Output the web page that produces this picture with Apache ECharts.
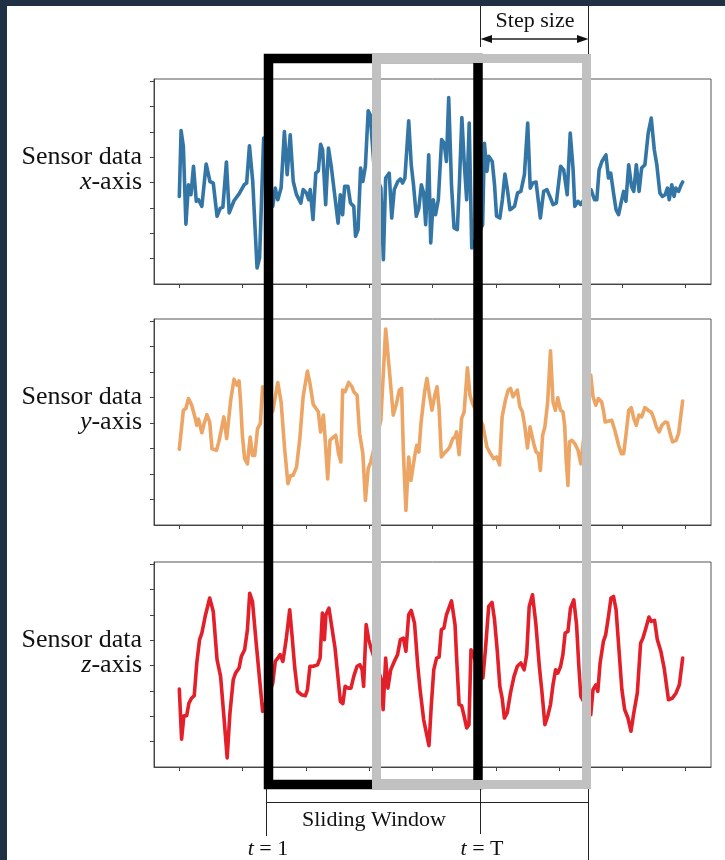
<!DOCTYPE html>
<html>
<head>
<meta charset="utf-8">
<style>html,body{margin:0;padding:0;background:#fff;}#c{width:725px;height:860px;}</style>
<script src="https://cdn.jsdelivr.net/npm/echarts@6/dist/echarts.min.js"></script>
</head>
<body>
<div id="c"></div>
<script>
// ---- data (sample index, sensor value) ----
var xTicks = [0, 25, 50, 75, 100, 125, 150, 175, 200];
var yTicks = [0, 1, 2, 3, 4, 5, 6, 7];

var tX = [0,0.7,1.6,2.6,3.6,4.6,5.6,6.7,7.6,8.9,10.6,12.1,13.4,14.9,16.2,17.2,18.6,19.7,21.6,23.6,25.6,26.6,27.7,29.0,30.7,31.7,33.3,35.0,36.9,37.9,38.9,40.2,41.5,42.6,43.8,45.0,46.3,48.0,48.9,50.2,51.1,51.7,52.8,53.9,54.9,55.8,56.6,57.8,58.9,60.0,61.2,61.8,62.7,63.6,64.5,65.3,66.6,67.6,68.9,69.6,70.6,71.6,72.5,73.5,74.6,75.4,77.0,79.6,80.6,81.5,82.9,83.9,84.9,86.3,87.3,88.2,89.1,90.6,91.6,92.5,93.6,94.6,95.6,96.5,97.3,98.5,99.3,100.3,101.2,102.3,103.6,104.6,105.5,106.4,107.5,108.5,109.8,110.6,111.6,112.5,113.5,114.5,115.5,119.8,120.5,121.5,122.2,123.6,124.5,125.3,126.6,127.6,128.6,129.5,130.6,131.5,132.4,133.6,134.9,136.3,137.6,138.6,139.6,140.9,142.6,143.9,145.2,146.6,147.6,148.9,150.6,151.8,152.5,153.2,154.4,155.5,156.2,157.5,158.5,162.6,164.0,164.9,165.8,166.9,167.5,168.5,169.5,170.4,171.6,172.5,173.5,174.6,175.5,176.4,177.5,178.6,179.5,180.5,181.6,182.6,183.9,185.2,186.4,187.6,188.6,189.8,190.8,191.9,192.8,193.5,194.5,195.4,196.1,197.2,198.2,198.8];
var valX = [2.45,5.05,4.42,1.36,2.91,2.52,3.64,2.26,2.32,2.06,3.73,3.04,2.98,1.67,1.99,2.02,3.81,1.80,2.28,2.55,2.91,2.98,4.45,3.04,-0.37,0.03,4.75,3.2,2.06,2.78,2.32,2.78,5.01,3.31,4.88,3.04,2.52,2.19,2.72,2.59,2.32,2.72,1.54,3.37,3.46,4.51,4.29,2.13,4.36,3.64,2.65,2.59,1.40,2.52,1.73,2.85,2.85,2.19,2.06,0.88,1.14,3.57,3.04,3.64,5.83,5.67,3.5,2.78,-0.04,3.18,3.37,1.60,2.72,3.04,3.14,2.98,3.18,5.43,3.70,2.91,1.67,1.99,2.91,2.59,1.34,4.09,0.62,2.32,1.73,2.32,4.69,4.55,3.83,6.35,2.91,1.21,1.14,2.91,5.56,3.83,2.32,5.34,0.42,1.34,4.55,3.44,4.03,3.83,2.91,1.67,1.60,2.32,3.33,2.78,1.93,1.99,2.06,2.59,2.65,3.31,5.34,2.78,2.98,3.02,1.60,2.65,2.72,2.39,2.13,2.19,3.64,3.50,3.57,2.52,4.95,3.57,2.06,2.26,2.13,2.72,2.32,2.32,3.50,3.83,3.77,4.09,3.18,3.37,2.52,1.93,1.73,2.26,2.65,2.26,3.70,2.85,2.65,3.70,2.65,3.57,3.70,4.95,5.54,4.29,3.70,2.59,2.45,2.52,2.78,2.32,2.91,2.45,2.78,2.65,2.91,3.02];

var tY = [0,1.6,2.6,3.6,4.9,6.3,6.9,7.6,8.9,9.8,10.9,12.0,12.9,14.7,15.6,16.3,17.6,18.7,20.3,21.6,22.7,23.6,24.2,24.9,25.8,26.9,28.0,28.9,29.8,30.9,32.0,32.9,36.9,38.9,40.2,41.6,42.9,44.0,44.9,46.3,47.6,48.9,50.6,51.6,52.9,54.9,55.8,56.9,57.5,58.6,59.5,60.9,61.8,62.9,63.8,64.5,65.5,66.9,68.2,68.9,70.2,71.2,72.5,73.5,74.6,75.6,79.6,81.5,82.9,84.5,85.8,86.9,87.8,88.5,89.5,90.6,91.5,92.9,93.8,94.6,95.5,96.9,97.8,98.8,99.8,100.9,101.8,102.6,103.5,104.5,105.8,106.8,108.0,108.9,109.5,110.5,111.5,112.5,113.8,114.8,115.8,119.9,121.5,122.9,124.2,125.3,126.5,127.5,128.8,129.9,130.8,131.8,132.5,133.5,134.5,135.5,136.4,137.5,138.5,140.0,140.9,141.8,142.6,143.5,144.4,145.5,146.6,147.6,148.5,149.5,150.6,151.5,152.2,152.8,153.5,154.1,155.1,156.2,157.5,158.6,162.5,163.4,164.5,165.5,166.8,167.5,168.2,169.2,170.8,172.2,173.5,174.6,175.5,176.4,177.5,178.5,179.5,180.5,181.5,182.6,183.9,185.2,186.5,187.4,188.4,189.5,190.6,191.9,192.8,193.7,194.8,196.2,197.2,198.8];
var valY = [1.97,3.50,3.57,3.96,3.70,3.18,2.91,3.15,2.62,2.98,3.33,3.04,1.99,1.93,2.26,2.59,3.24,2.39,3.90,4.72,4.49,4.65,3.83,2.52,1.60,1.40,2.45,1.73,1.73,2.78,2.98,4.42,3.46,4.59,3.83,1.99,0.62,0.94,0.94,1.27,2.39,4.03,5.04,4.55,3.73,3.44,2.65,3.31,2.52,0.81,2.32,2.45,2.52,1.80,1.47,4.29,4.23,4.59,4.42,4.23,4.09,2.59,1.80,-0.04,1.21,1.47,3.11,6.69,5.14,3.31,3.77,4.29,4.36,1.86,-0.43,1.67,0.75,1.67,2.13,1.86,3.04,4.23,4.75,4.09,3.50,4.09,4.42,3.57,1.67,1.80,1.93,2.06,2.39,2.45,2.65,1.76,3.18,3.44,5.17,4.09,3.77,2.91,2.06,1.80,1.60,1.67,1.36,3.24,3.90,4.29,4.36,4.03,4.03,4.29,3.64,3.44,2.91,2.02,2.85,2.19,1.86,1.80,1.14,2.52,2.85,3.83,5.83,3.83,3.50,3.99,3.50,3.44,2.91,1.54,0.55,2.26,2.32,2.19,1.93,1.40,4.88,4.03,3.70,3.96,3.83,3.50,3.04,3.07,3.11,2.65,2.13,1.80,1.80,2.52,3.50,3.60,3.18,2.91,3.31,3.24,3.60,3.50,3.41,3.18,2.85,2.65,2.91,3.04,3.02,2.65,2.26,2.32,2.59,3.86];

var tZ = [0,0.9,1.8,2.9,3.8,4.9,5.9,6.9,8.0,8.9,10.2,12.0,13.4,14.9,16.3,17.6,18.9,20.0,21.3,22.2,23.6,24.5,25.8,26.9,27.8,28.9,30.3,31.6,32.9,36.9,37.9,38.9,39.8,40.9,42.2,43.6,44.5,45.6,46.7,48.2,49.8,50.6,51.6,52.9,54.6,55.6,56.5,57.3,57.9,59.1,60.2,61.5,62.5,63.6,64.6,65.5,66.6,67.8,68.9,70.2,71.3,72.2,72.8,73.8,74.8,75.7,79.8,80.5,81.5,82.4,83.5,84.9,86.2,87.3,88.5,89.5,90.6,91.6,92.9,94.2,95.1,96.5,98.6,99.5,100.5,101.6,102.6,103.5,104.5,105.5,107.5,108.9,109.5,110.5,111.5,112.5,113.5,114.4,115.2,119.9,120.9,122.2,123.5,124.5,125.6,126.6,127.5,128.4,129.5,130.8,132.2,133.5,134.9,136.2,137.2,138.2,139.5,140.8,142.2,143.2,144.4,145.5,146.6,147.6,148.6,149.5,150.6,151.5,152.4,153.5,154.5,155.8,156.9,157.8,158.6,162.5,163.4,164.5,165.3,166.2,167.5,168.4,169.5,170.5,171.5,172.5,173.5,174.8,175.9,177.2,178.4,179.5,180.9,182.2,183.1,184.1,185.5,186.4,187.7,188.8,190.2,191.5,193.2,194.8,196.2,197.5,198.8];
var valZ = [2.07,0.10,1.02,1.02,1.52,1.72,1.81,3.10,4.02,4.28,4.93,5.66,5.13,3.23,2.57,1.00,-0.64,1.13,2.44,2.70,2.90,3.36,3.62,4.41,5.85,5.52,3.95,2.57,1.19,2.31,3.16,3.29,3.43,3.16,4.02,5.20,4.21,2.90,1.98,1.85,1.81,2.05,2.97,2.97,3.03,3.29,5.07,4.02,5.00,5.26,4.54,3.69,2.70,1.59,1.50,2.18,2.11,2.11,2.57,2.97,3.03,2.83,2.18,4.61,4.02,3.69,2.44,1.26,3.29,2.11,2.83,3.16,3.43,4.02,4.08,3.56,5.00,5.17,4.67,2.97,2.05,0.87,-0.16,1.39,2.83,3.29,3.33,4.41,4.48,5.00,5.55,4.61,3.36,1.46,1.42,1.00,0.54,0.67,3.62,2.51,3.62,5.33,5.49,4.80,3.56,2.18,1.72,0.93,1.13,1.92,2.57,2.97,3.10,2.83,3.43,5.33,5.79,4.67,2.97,1.98,0.67,1.00,1.46,2.24,2.83,2.70,2.97,3.43,4.28,4.34,5.26,5.59,4.61,2.97,1.78,1.06,2.05,2.24,1.98,3.10,3.95,4.21,4.93,5.66,5.72,5.20,3.82,2.05,1.26,0.93,0.41,1.13,1.92,3.88,4.08,4.41,4.91,4.74,4.78,4.02,3.56,2.90,1.65,1.72,1.92,2.24,3.29];

var seriesColors = ['#3376a6', '#eca564', '#e3202a'];

function pairs(t, v) { return t.map(function (x, i) { return [x, v[i]]; }); }

var chart = echarts.init(document.getElementById('c'), null, {renderer: 'canvas'});
var tops = [79, 319, 562];
var heights = [205, 206, 205];
var grids = [], xAxes = [], yAxes = [], series = [];
var datas = [pairs(tX, valX), pairs(tY, valY), pairs(tZ, valZ)];
for (var i = 0; i < 3; i++) {
  grids.push({left: 154, width: 557, top: tops[i], height: heights[i], show: true,
    borderColor: '#555', borderWidth: 1, backgroundColor: '#fff'});
  xAxes.push({type: 'value', gridIndex: i, min: -10, max: 210, position: 'bottom',
    axisLine: {show: true, onZero: false, lineStyle: {color: '#444', width: 1}},
    axisTick: {show: true, inside: false, length: 4, customValues: xTicks, lineStyle: {color: '#444', width: 1}},
    axisLabel: {show: false, customValues: xTicks}, splitLine: {show: false}});
  yAxes.push({type: 'value', gridIndex: i, min: -1, max: 7.08, position: 'left',
    axisLine: {show: true, onZero: false, lineStyle: {color: '#444', width: 1}},
    axisTick: {show: true, inside: false, length: 4, customValues: yTicks, lineStyle: {color: '#444', width: 1}},
    axisLabel: {show: false, customValues: yTicks}, splitLine: {show: false}});
  series.push({type: 'line', xAxisIndex: i, yAxisIndex: i, data: datas[i], showSymbol: false,
    symbol: 'none', smooth: false, animation: false,
    lineStyle: {color: seriesColors[i], width: 3.6, join: 'round', cap: 'round'}});
}

var serif = 'Liberation Serif, "Times New Roman", serif';
function txt(x, y, text, size, align, rich) {
  return {type: 'text', z: 200, silent: true,
    style: {x: x, y: y, text: text, fill: '#111', fontSize: size, fontFamily: serif,
      align: align, textAlign: align, verticalAlign: 'middle', textVerticalAlign: 'middle', rich: rich}};
}
function ln(x1, y1, x2, y2, w, c) {
  return {type: 'line', z: 150, silent: true, shape: {x1: x1, y1: y1, x2: x2, y2: y2},
    style: {stroke: c || '#222', lineWidth: w || 1}};
}
var italic26 = {i: {fontStyle: 'italic', fontSize: 26, fontFamily: serif, fill: '#111'}};
var italic22 = {i: {fontStyle: 'italic', fontSize: 22, fontFamily: serif, fill: '#111'}};
var axisNames = ['x', 'y', 'z'];
var graphics = [
  {type: 'rect', z: 300, silent: true, shape: {x: 0, y: 0, width: 725, height: 6}, style: {fill: '#1f3143'}},
  {type: 'rect', z: 300, silent: true, shape: {x: 0, y: 0, width: 7, height: 860}, style: {fill: '#1f3143'}},
  {type: 'rect', z: 160, silent: true, shape: {x: 268.5, y: 58.5, width: 209.5, height: 726},
    style: {fill: 'none', stroke: '#000', lineWidth: 9.5}},
  {type: 'rect', z: 170, silent: true, shape: {x: 376.5, y: 58.5, width: 210, height: 726},
    style: {fill: 'none', stroke: '#c1c1c1', lineWidth: 9}},
  ln(480.5, 6, 480.5, 47), ln(588.5, 6, 588.5, 54),
  ln(487, 39, 582, 39, 1.4),
  {type: 'polygon', z: 150, silent: true, shape: {points: [[480.5, 39], [492, 35], [492, 43]]}, style: {fill: '#111'}},
  {type: 'polygon', z: 150, silent: true, shape: {points: [[588.5, 39], [577, 35], [577, 43]]}, style: {fill: '#111'}},
  txt(535, 21, 'Step size', 22, 'center'),
  ln(266.5, 789, 266.5, 836), ln(266.5, 802.5, 588.5, 802.5, 1.2), ln(480.5, 789, 480.5, 834), ln(588.5, 789, 588.5, 860),
  txt(374, 820, 'Sliding Window', 22, 'center'),
  txt(268, 849, '{i|t} = 1', 22, 'center', italic22),
  txt(482, 849, '{i|t} = T', 22, 'center', italic22)
];
for (var k = 0; k < 3; k++) {
  graphics.push(txt(142, tops[k] + 78, 'Sensor data', 26, 'right'));
  graphics.push(txt(142, tops[k] + 103, '{i|' + axisNames[k] + '}-axis', 26, 'right', italic26));
}

chart.setOption({
  backgroundColor: '#fff',
  animation: false,
  grid: grids, xAxis: xAxes, yAxis: yAxes, series: series,
  graphic: {elements: graphics}
});
</script>
</body>
</html>
